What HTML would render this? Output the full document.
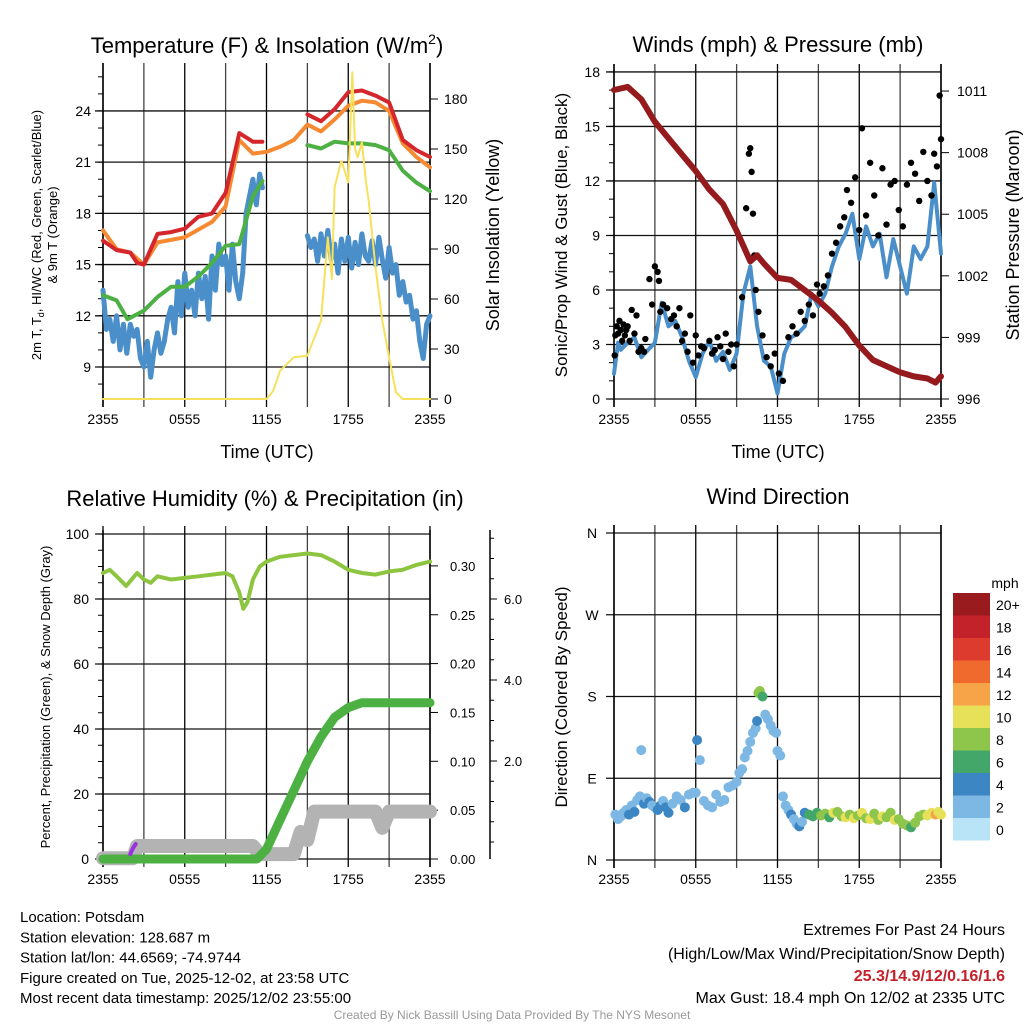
<!DOCTYPE html>
<html><head><meta charset="utf-8"><style>
body{margin:0;background:#fff;}
svg{display:block;font-family:"Liberation Sans",sans-serif;}
</style></head><body>
<svg id="c" width="1024" height="1024" viewBox="0 0 1024 1024"></svg>
<script>
// ---- Panel 1 data (hourly / half-hourly values) ----
const tRed=[0,1,2,2.5,3,4,5,6,7,8,9,10,11,11.7];
const vRed=[16.4,15.85,15.7,15.1,15.0,16.8,16.9,17.1,17.8,18.0,19.2,22.7,22.2,22.2];
const tRed2=[15,16,17,18,19,20,21,22,23,24];
const vRed2=[23.8,23.4,24.1,25.1,25.2,24.9,24.5,22.3,21.7,21.3];
const tOrange=[0,1,2,3,4,6,8,9,10,11,12,13,14,15,16,17,18,19,20,21,22,23,24];
const vOrange=[17.0,15.9,15.7,15.0,16.3,16.6,17.5,18.4,22.3,21.5,21.6,21.9,22.3,23.2,22.8,23.5,24.3,24.6,24.5,24.0,22.1,21.3,20.7];
const tGreen=[0,1,1.8,3,4,5,6,7,8,9,10,11,11.7];
const vGreen=[13.2,12.9,11.8,12.3,13.1,13.7,13.7,14.3,15.1,16.1,16.2,19.0,19.9];
const tGreen2=[15,16,17,18,19,20,21,22,23,24];
const vGreen2=[22.0,21.8,22.2,22.1,22.1,22.0,21.7,20.5,19.8,19.3];
const tBlue=[0,0.25,0.5,0.75,1,1.25,1.5,1.75,2,2.25,2.5,2.75,3,3.25,3.5,3.75,4,4.25,4.5,4.75,5,5.25,5.5,5.75,6,6.25,6.5,6.75,7,7.25,7.5,7.75,8,8.25,8.5,8.75,9,9.25,9.5,9.75,10,10.25,10.5,10.75,11,11.25,11.5,11.7];
const vBlue=[13.5,11.2,11.8,10.5,12.0,10.0,11.5,9.8,11.5,10.8,11.2,9.5,9.0,10.5,8.4,10.0,11.0,9.8,10.5,11.8,12.5,11.0,14.0,12.0,14.5,12.5,13.5,12.0,14.5,13.0,14.3,11.8,15.5,13.5,16.2,15.0,15.5,13.5,16.2,14.0,13.0,14.5,18.0,19.0,20.0,18.5,20.3,19.5];
const tBlue2=[15,15.25,15.5,15.75,16,16.25,16.5,16.75,17,17.25,17.5,17.75,18,18.25,18.5,18.75,19,19.25,19.5,19.75,20,20.25,20.5,20.75,21,21.25,21.5,21.75,22,22.25,22.5,22.75,23,23.25,23.5,23.75,24];
const vBlue2=[16.7,16.0,16.5,15.2,16.8,15.5,17.0,15.3,16.2,14.5,16.5,15.2,16.6,14.8,16.3,15.0,16.8,15.5,15.2,16.4,15.0,16.6,15.3,14.2,16.0,14.5,15.0,13.2,14.0,12.8,13.2,11.8,12.3,10.5,9.5,11.5,12.0];
const tSun=[0,12,12.5,13,14,15,16,16.5,16.8,17,17.5,18,18.3,18.5,18.7,19,19.3,19.5,20,20.5,21,21.5,22,24];
const vSun=[0,0,5,17,25,26,47,97,72,127,143,130,196,150,145,154,130,119,79,47,25,4,0,0];
const p1Ticks=[9,12,15,18,21,24];
const p1RTicks=[0,30,60,90,120,150,180];
const timeLabels=["2355","0555","1155","1755","2355"];

// ---- Panel 2 data ----
const tWind=[0,0.3,0.5,1,1.5,2,2.5,3,3.5,4,4.5,5,5.5,6,6.5,7,7.5,8,8.5,9,9.5,10,10.5,11,11.5,12,12.5,13,13.5,14,14.5,15,15.5,16,16.5,17,17.5,18,18.5,19,19.5,20,20.5,21,21.5,22,22.5,23,23.5,24];
const vWind=[1.4,3.1,2.7,3.1,3.4,2.3,2.7,3.1,5.3,4.0,4.3,3.4,2.1,1.2,2.5,3.2,2.1,2.6,1.6,2.5,5.8,7.3,4.0,2.1,1.8,0.3,2.5,3.4,3.6,4.0,5.8,5.1,5.8,7.3,8.4,9.1,10.2,7.7,9.5,8.4,9.1,6.7,8.8,7.3,5.8,8.4,7.7,8.4,11.9,8.0];
const tGust=[0.05,0.1,0.2,0.3,0.4,0.5,0.6,0.7,0.8,0.9,1.0,1.15,1.3,1.5,1.65,1.8,2.0,2.2,2.3,2.6,2.8,3.0,3.2,3.3,3.4,3.6,3.9,4.2,4.4,4.6,4.8,5.0,5.2,5.4,5.6,5.8,6.0,6.2,6.4,6.6,7.0,7.2,7.4,7.6,7.8,8.0,8.2,8.4,8.6,8.8,9.0,9.4,9.7,9.9,10.0,10.1,10.2,10.3,10.4,10.6,10.9,11.2,11.5,11.8,12.1,12.4,12.8,13.1,13.4,13.7,14.0,14.3,14.6,14.9,15.1,15.4,15.7,16.0,16.3,16.6,16.9,17.1,17.4,17.7,18.0,18.2,18.5,18.8,19.1,19.4,19.7,20.0,20.3,20.6,20.9,21.2,21.5,21.8,22.1,22.4,22.7,23.0,23.3,23.5,23.7,23.9,24.0];
const vGust=[2.4,3.5,4.0,3.6,4.3,3.8,3.2,4.1,3.5,3.8,4.0,3.2,4.9,3.6,4.6,2.6,2.8,2.6,3.3,6.6,5.2,7.3,7.0,6.5,4.8,5.2,5.0,4.4,4.6,4.0,5.0,3.2,3.6,2.6,4.6,2.0,3.5,2.4,2.9,2.8,3.2,2.5,2.7,3.4,2.9,2.2,3.6,2.6,3.0,1.8,3.0,5.6,10.5,13.5,13.8,12.5,10.2,7.9,6.0,4.8,3.5,2.3,1.8,2.5,1.4,1.0,3.4,4.0,3.6,4.8,4.3,5.2,4.6,6.3,5.8,6.2,6.8,8.0,8.6,9.5,10.0,11.5,10.8,12.2,9.3,14.9,10.1,13.0,11.2,9.0,12.7,9.6,11.8,12.0,10.4,9.5,11.8,13.0,12.4,10.9,13.6,12.0,11.2,13.5,12.8,16.7,14.3];
const tPres=[0,1,2,3,4,5,6,7,8,9,10,10.5,11,12,13,14,15,16,17,18,19,20,21,22,23,23.6,24];
const vPres=[1011.05,1011.2,1010.6,1009.5,1008.7,1007.9,1007.1,1006.2,1005.5,1004.2,1002.7,1003.0,1002.6,1001.9,1001.8,1001.3,1000.8,1000.2,999.5,998.6,997.9,997.6,997.3,997.1,997.0,996.8,997.1];
const p2Ticks=[0,3,6,9,12,15,18];
const p2RTicks=[996,999,1002,1005,1008,1011];

// ---- Panel 3 data ----
const tRH=[0,0.5,1,1.7,2.5,3,3.5,4,5,6,7,8,9,9.5,10,10.3,10.6,11,11.5,12,13,14,15,16,17,18,19,20,21,22,23,24];
const vRH=[88,89,87,84,88,86,85,87,86,86.5,87,87.5,88,87,82,77,79,86,90,91.5,93,93.5,94,93.5,91.5,89,88,87.5,88.5,89,90.5,91.5];
const tPrecip=[0,11.3,12,13,14,15,16,17,18,19,20,24];
const vPrecip=[0,0,0.01,0.04,0.07,0.10,0.125,0.145,0.155,0.16,0.16,0.16];
const tSnow=[0,2.2,2.5,11,11.5,14,14.5,15,15.5,20,20.5,21,24];
const vSnow=[-0.4,-0.4,-0.1,-0.1,-0.3,-0.3,0.25,0.05,0.75,0.75,0.35,0.75,0.75];
const p3Ticks=[0,20,40,60,80,100];
const p3R1Ticks=["0.00","0.05","0.10","0.15","0.20","0.25","0.30"];
const p3R2Ticks=["2.0","4.0","6.0"];

// ---- Panel 4 data ----
const tDir=[0.1,0.3,0.5,0.7,0.9,1.1,1.3,1.5,1.7,1.9,2.0,2.2,2.4,2.6,2.8,3.0,3.2,3.4,3.6,3.8,4.0,4.3,4.6,4.9,5.2,5.5,5.8,6.0,6.1,6.3,6.6,6.9,7.2,7.5,7.8,8.1,8.4,8.7,9.0,9.2,9.4,9.6,9.8,10.0,10.2,10.4,10.5,10.6,10.7,10.9,11.1,11.3,11.5,11.7,11.9,12.0,12.2,12.4,12.6,12.8,13.0,13.2,13.4,13.6,13.8,14.0,14.3,14.6,14.9,15.2,15.5,15.8,16.1,16.4,16.7,17.0,17.3,17.6,17.9,18.2,18.5,18.8,19.1,19.4,19.7,20.0,20.3,20.6,20.9,21.2,21.5,21.8,22.1,22.4,22.7,23.0,23.3,23.6,23.8,24.0];
const vDir=[50,45,48,52,55,50,60,53,66,70,121,62,68,64,60,58,55,60,65,58,52,62,70,66,58,72,74,74,132,110,65,60,58,72,64,66,80,82,86,96,100,113,120,130,140,145,153,184,186,180,160,155,148,142,140,120,115,70,60,55,50,45,40,37,42,52,50,48,52,49,51,47,52,53,48,47,50,46,49,52,46,45,51,44,48,47,52,44,45,40,38,36,41,48,50,49,52,50,53,50];
const sDir=[2,2,2,2,2,4,2,4,2,2,1,4,2,4,2,2,4,4,2,4,4,2,2,2,4,2,2,2,4,2,2,1,2,2,2,2,2,2,2,2,2,2,2,2,2,2,4,7,8,6,2,2,2,2,2,1,1,2,2,2,4,2,2,4,2,4,5,6,6,7,8,6,9,7,8,10,8,9,7,10,8,9,7,8,9,7,8,10,7,8,7,6,7,8,8,9,10,12,9,10];
const dirLabels=["N","E","S","W","N"];
const spdLabels=["20+","18","16","14","12","10","8","6","4","2","0"];
const spdColors=["#9a1b1e","#c4222a","#de3b2f","#f0692d","#f7a448","#e7e15a","#8ec54b","#44a76a","#3c86c4","#7db7e4","#b9e3f6"];

const NS="http://www.w3.org/2000/svg";
const svg=document.getElementById('c');
function mk(tag,attrs,parent){const e=document.createElementNS(NS,tag);for(const k in attrs)e.setAttribute(k,attrs[k]);(parent||svg).appendChild(e);return e;}
function txt(x,y,s,size,anchor,parent,extra){const e=mk('text',Object.assign({x:x,y:y,'font-size':size,'text-anchor':anchor||'middle',fill:'#000'},extra||{}),parent);e.textContent=s;return e;}
function lin(x0,x1,t){return x0+(x1-x0)*t/24;}
function poly(ts,vs,fx,fy,stroke,w,name,parent){
  let d='';for(let i=0;i<ts.length;i++){d+=(i?'L':'M')+fx(ts[i]).toFixed(1)+','+fy(vs[i]).toFixed(1);}
  const p=mk('path',{d:d,fill:'none',stroke:stroke,'stroke-width':w,'stroke-linejoin':'round','stroke-linecap':'round'},parent);
  
  
  return p;
}
function frame(L,T,R,B,name){
  const g=mk('g',{});
  
  
  for(let i=0;i<=8;i++){const x=L+(R-L)*i/8;mk('line',{x1:x,y1:T-8,x2:x,y2:B+8,stroke:i%2?'#444':'#000','stroke-width':1.3},g);}
  return g;
}
function hgrid(g,L,R,y){mk('line',{x1:L-8,x2:R,y1:y,y2:y,stroke:'#111','stroke-width':1.3},g);}
function xlabels(g,L,R,y){timeLabels.forEach((s,i)=>{txt(L+(R-L)*i/4,y,s,14,'middle',g);});}

// ===== Panel 1 =====
(function(){
const L=103,R=430,T=71,B=399;
const fx=t=>lin(L,R,t), fy=v=>367-(v-9)*17.07, fy2=v=>399-v*300/180;
const g=frame(L,T,R,B,'temperature-plot');
p1Ticks.forEach(v=>{hgrid(g,L,R,fy(v));txt(L-12,fy(v)+5,String(v),14,'end',g);});
for(let v=8;v<=26;v++){mk('line',{x1:L-5,x2:L,y1:fy(v),y2:fy(v),stroke:'#000'},g);}
p1RTicks.forEach(v=>{mk('line',{x1:R,x2:R+8,y1:fy2(v),y2:fy2(v),stroke:'#000'},g);txt(R+14,fy2(v)+5,String(v),14,'start',g);});
mk('line',{x1:L,x2:L,y1:T-8,y2:B+8,stroke:'#000','stroke-width':1.5},g);
mk('line',{x1:R,x2:R,y1:T-8,y2:B+8,stroke:'#000','stroke-width':1.5},g);
xlabels(g,L,R,424);
poly(tBlue,vBlue,fx,fy,'#4a8fca',5,'hiwc-line-blue',g);
poly(tBlue2,vBlue2,fx,fy,'#4a8fca',5,'hiwc-line-blue-late',g);
poly(tGreen,vGreen,fx,fy,'#4cb043',4,'dewpoint-line',g);
poly(tGreen2,vGreen2,fx,fy,'#4cb043',4,'dewpoint-line-late',g);
poly(tOrange,vOrange,fx,fy,'#f58a33',4,'temp-9m-line',g);
poly(tRed,vRed,fx,fy,'#d4262b',4,'temp-2m-line',g);
poly(tRed2,vRed2,fx,fy,'#d4262b',4,'temp-2m-line-late',g);
poly(tSun,vSun,fx,fy2,'#f7e15c',2,'insolation-line',g);
const ti=txt(267,53,'',22,'middle');ti.innerHTML='Temperature (F) &amp; Insolation (W/m<tspan font-size="14" dy="-9">2</tspan><tspan dy="9">)</tspan>';

const yl=txt(0,0,'',13,'middle',svg,{transform:'translate(41,235) rotate(-90)'});
yl.innerHTML='2m T, T<tspan font-size="9" dy="3">d</tspan><tspan dy="-3">, HI/WC (Red, Green, Scarlet/Blue)</tspan>';

const yl2=txt(0,0,'& 9m T (Orange)',13,'middle',svg,{transform:'translate(57,235) rotate(-90)'});

const yr=txt(0,0,'Solar Insolation (Yellow)',18,'middle',svg,{transform:'translate(499,235) rotate(-90)'});

const xt=txt(267,458,'Time (UTC)',18,'middle');

})();

// ===== Panel 2 =====
(function(){
const L=614,R=941,T=72,B=399;
const fx=t=>lin(L,R,t), fy=v=>399-v*18.17, fy2=p=>399-(p-996)*20.53;
const g=frame(L,T,R,B,'winds-plot');
p2Ticks.forEach(v=>{hgrid(g,L,R,fy(v));txt(L-14,fy(v)+5,String(v),14,'end',g);});
for(let v=0;v<=18;v++){mk('line',{x1:L-5,x2:L,y1:fy(v),y2:fy(v),stroke:'#000'},g);}
p2RTicks.forEach(v=>{mk('line',{x1:R,x2:R+8,y1:fy2(v),y2:fy2(v),stroke:'#000'},g);txt(R+16,fy2(v)+5,String(v),14,'start',g);});
mk('line',{x1:L,x2:L,y1:T-8,y2:B+8,stroke:'#000','stroke-width':1.5},g);
mk('line',{x1:R,x2:R,y1:T-8,y2:B+8,stroke:'#000','stroke-width':1.5},g);
xlabels(g,L,R,424);
poly(tWind,vWind,fx,fy,'#4a8fca',4,'wind-speed-line',g);
const nG=Math.min(tGust.length,vGust.length);
for(let i=0;i<nG;i++){
  const c=mk('circle',{cx:fx(tGust[i]),cy:fy(vGust[i]),r:3.2,fill:'#000'},g);
  
  
}
poly(tPres,vPres,fx,fy2,'#951a1d',6,'pressure-line',g);
const ti=txt(778,52,'Winds (mph) & Pressure (mb)',22);

const yl=txt(0,0,'Sonic/Prop Wind & Gust (Blue, Black)',17,'middle',svg,{transform:'translate(567,235) rotate(-90)'});

const yr=txt(0,0,'Station Pressure (Maroon)',18,'middle',svg,{transform:'translate(1019,235) rotate(-90)'});

const xt=txt(778,458,'Time (UTC)',18);

})();

// ===== Panel 3 =====
(function(){
const L=103,R=430,T=534,B=859;
const fx=t=>lin(L,R,t), fy=v=>859-v*3.25, fyP=p=>859-p*977, fyS=d=>842-d*40.5;
const g=frame(L,T,R,B,'humidity-plot');
p3Ticks.forEach(v=>{hgrid(g,L,R,fy(v));txt(L-14,fy(v)+5,String(v),14,'end',g);});
for(let v=0;v<=100;v+=5){mk('line',{x1:L-5,x2:L,y1:fy(v),y2:fy(v),stroke:'#000'},g);}
mk('line',{x1:L,x2:L,y1:T-4,y2:B+8,stroke:'#000','stroke-width':1.5},g);
mk('line',{x1:R,x2:R,y1:T-4,y2:B+8,stroke:'#000','stroke-width':1.5},g);
p3R1Ticks.forEach((s,i)=>{const y=fyP(i*0.05);mk('line',{x1:R,x2:R+8,y1:y,y2:y,stroke:'#000'},g);txt(R+20,y+5,s,13,'start',g);});
mk('line',{x1:490,x2:490,y1:530,y2:859,stroke:'#000','stroke-width':1.5},g);
p3R2Ticks.forEach((s,i)=>{const y=fyS((i+1)*2);mk('line',{x1:490,x2:497,y1:y,y2:y,stroke:'#000'},g);txt(504,y+5,s,13,'start',g);});
for(let d=0;d<=7.5;d+=0.5){mk('line',{x1:490,x2:494,y1:fyS(d),y2:fyS(d),stroke:'#000'},g);}
xlabels(g,L,R,884);
poly(tSnow,vSnow,fx,fyS,'#b3b3b3',14,'snow-depth-line',g);
poly(tPrecip,vPrecip,fx,fyP,'#4cb043',9,'precipitation-line',g);
poly([2.0,2.2,2.4],[-0.3,-0.15,-0.05],fx,fyS,'#9b30e0',4,'purple-marker',g);
poly(tRH,vRH,fx,fy,'#8dc540',4,'relative-humidity-line',g);
const ti=txt(265,506,'Relative Humidity (%) & Precipitation (in)',22);

const yl=txt(0,0,'Percent, Precipitation (Green), & Snow Depth (Gray)',13,'middle',svg,{transform:'translate(50,697) rotate(-90)'});

})();

// ===== Panel 4 =====
(function(){
const L=614,R=941,T=533,B=860;
const fx=t=>lin(L,R,t), fy=d=>860-d*(B-T)/360;
const g=frame(L,T,R,B,'wind-direction-plot');
dirLabels.forEach((s,i)=>{const y=fy(i*90);hgrid(g,L,R,y);txt(592,y+5,s,14,'middle',g);});
mk('line',{x1:L,x2:L,y1:T-8,y2:B+8,stroke:'#000','stroke-width':1.5},g);
mk('line',{x1:R,x2:R,y1:T-8,y2:B+8,stroke:'#000','stroke-width':1.5},g);
xlabels(g,L,R,884);
for(let i=0;i<tDir.length;i++){
  const idx=Math.max(0,Math.min(10,10-Math.round(sDir[i]/2)));
  const c=mk('circle',{cx:fx(tDir[i]),cy:fy(vDir[i]),r:5,fill:spdColors[idx]},g);
  
  
}
const ti=txt(778,504,'Wind Direction',22);

const yl=txt(0,0,'Direction (Colored By Speed)',17,'middle',svg,{transform:'translate(567,697) rotate(-90)'});

const lg=mk('g',{});

txt(1005,588,'mph',14,'middle',lg);
spdLabels.forEach((s,i)=>{const y=593+i*22.5;mk('rect',{x:953,y:y,width:37,height:22.5,fill:spdColors[i]},lg);txt(996,y+17,s,14,'start',lg);});
})();

// ===== Footer =====
const leftLines=["Location: Potsdam","Station elevation: 128.687 m","Station lat/lon: 44.6569; -74.9744","Figure created on Tue, 2025-12-02, at 23:58 UTC","Most recent data timestamp: 2025/12/02 23:55:00"];
leftLines.forEach((s,i)=>{const e=txt(20,922+i*20.3,s,15,'start');});
[["Extremes For Past 24 Hours",935,'#000',''],["(High/Low/Max Wind/Precipitation/Snow Depth)",959,'#000',''],["25.3/14.9/12/0.16/1.6",981,'#c4222a','bold'],["Max Gust: 18.4 mph On 12/02 at 2335 UTC",1003,'#000','']].forEach(a=>{
  const e=txt(1005,a[1],a[0],16,'end',svg,{fill:a[2],'font-weight':a[3]||'normal'});
  
});
const cr=txt(512,1019,'Created By Nick Bassill Using Data Provided By The NYS Mesonet',12,'middle',svg,{fill:'#999'});

</script>
</body></html>
